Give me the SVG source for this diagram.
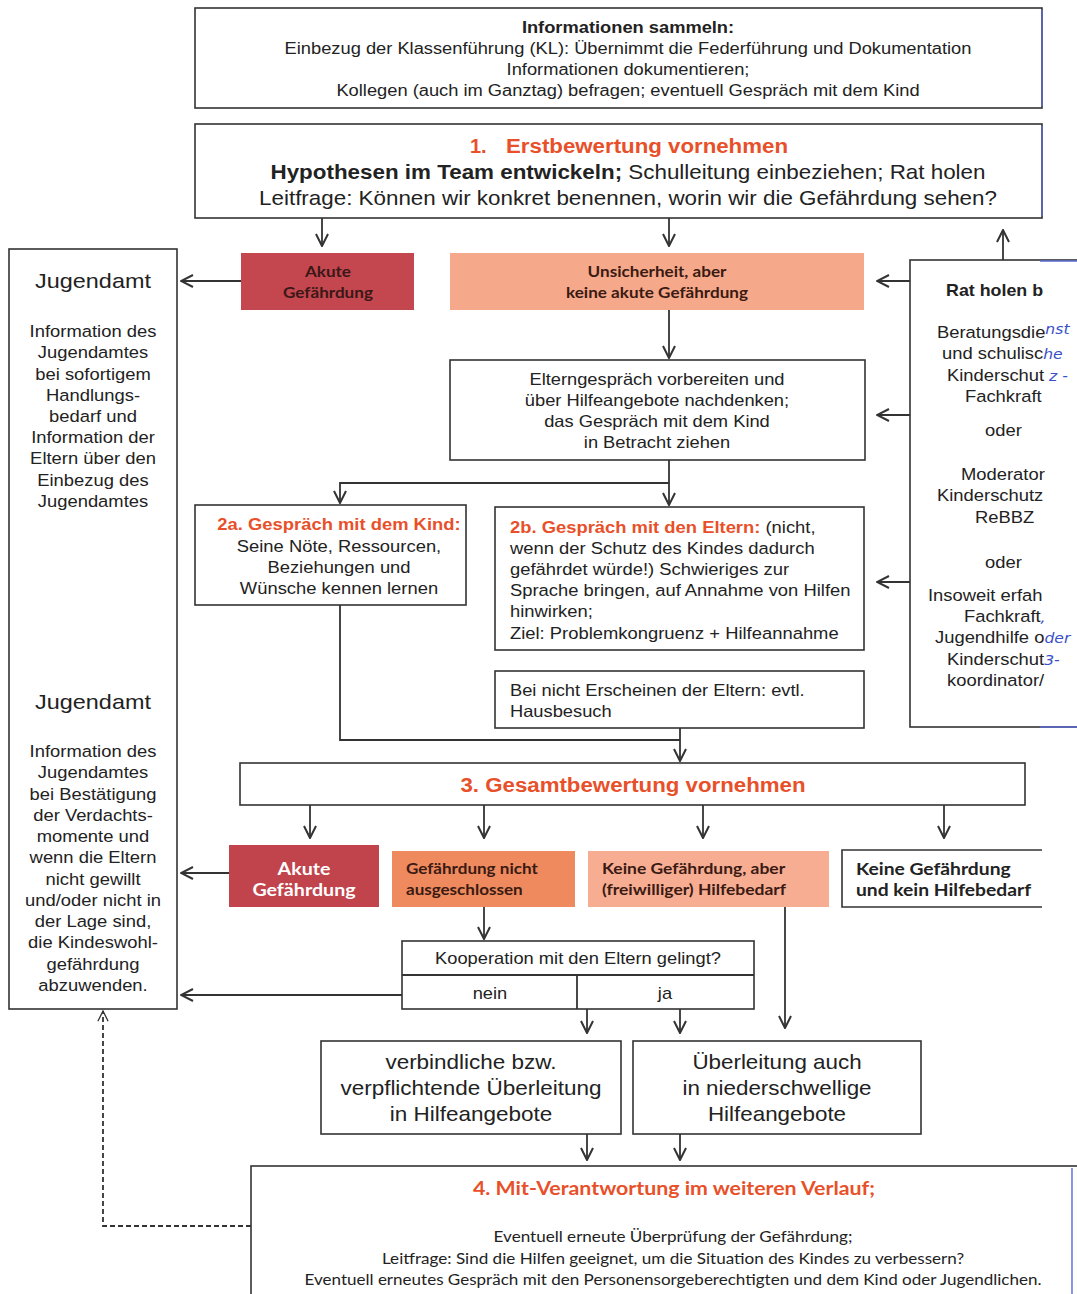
<svg xmlns="http://www.w3.org/2000/svg" width="1077" height="1294" viewBox="0 0 1077 1294">
<defs>
<style>
.box{fill:#fff;stroke:#333;stroke-width:1.6}
.t{font-family:"Liberation Sans",Arial,sans-serif;fill:#222}
.c{text-anchor:middle}
.b{font-weight:bold}
.or{fill:#e8502a;font-weight:bold}
.cal{font-family:Lato,"Liberation Sans",sans-serif;font-weight:bold}
.hw{font-family:"DejaVu Sans",sans-serif;font-style:italic;fill:#3a50c8;font-size:14px;font-weight:normal}
.ln{fill:none;stroke:#333;stroke-width:1.8}
.blue{fill:none;stroke:#5a6ad0;stroke-width:1.4}
</style>
<marker id="ar" viewBox="0 0 14 14" refX="13" refY="7" markerWidth="14" markerHeight="14" markerUnits="userSpaceOnUse" orient="auto">
<path d="M1,1 L13,7 L1,13" fill="none" stroke="#333" stroke-width="2"/>
</marker>
<marker id="ard" viewBox="0 0 14 14" refX="13" refY="7" markerWidth="12" markerHeight="12" markerUnits="userSpaceOnUse" orient="auto">
<path d="M1,1 L13,7 L1,13" fill="none" stroke="#333" stroke-width="1.5"/>
</marker>
</defs>
<rect width="1077" height="1294" fill="#fff"/>

<g id="info">
<rect class="box" x="195" y="8" width="847" height="100"/>
<line class="blue" x1="1042" y1="10" x2="1042" y2="106"/>
<g transform="matrix(1.143,0,0,1,-89.8,0)">
<text class="t c b" x="628" y="33" font-size="16">Informationen sammeln:</text>
<text class="t c" x="628" y="54" font-size="16">Einbezug der Klassenführung (KL): Übernimmt die Federführung und Dokumentation</text>
<text class="t c" x="628" y="75" font-size="16">Informationen dokumentieren;</text>
<text class="t c" x="628" y="96" font-size="16">Kollegen (auch im Ganztag) befragen; eventuell Gespräch mit dem Kind</text>
</g>
</g>

<g id="erst">
<rect class="box" x="195" y="124" width="847" height="94"/>
<line class="blue" x1="1042" y1="126" x2="1042" y2="216"/>
<text class="t or" x="470" y="153" font-size="20">1.</text>
<text class="t or" x="506" y="153" font-size="20" textLength="282" lengthAdjust="spacingAndGlyphs">Erstbewertung vornehmen</text>
<g transform="matrix(1.12,0,0,1,-75.36,0)">
<text class="t c" x="628" y="179" font-size="20"><tspan class="b">Hypothesen im Team entwickeln;</tspan> Schulleitung einbeziehen; Rat holen</text>
<text class="t c" x="628" y="205" font-size="20">Leitfrage: Können wir konkret benennen, worin wir die Gefährdung sehen?</text>
</g>
</g>

<g id="akut1">
<rect x="241" y="253" width="173" height="57" fill="#c4464e"/>
<g transform="matrix(1.14,0,0,1,-45.92,0)">
<text class="cal c" x="328" y="277" font-size="15" fill="#3a1818">Akute</text>
<text class="cal c" x="328" y="298" font-size="15" fill="#3a1818">Gefährdung</text>
</g>
</g>

<g id="unsicher">
<rect x="450" y="253" width="414" height="57" fill="#f6a98a"/>
<g transform="matrix(1.14,0,0,1,-91.98,0)">
<text class="cal c" x="657" y="277" font-size="15" fill="#3a1a12">Unsicherheit, aber</text>
<text class="cal c" x="657" y="298" font-size="15" fill="#3a1a12">keine akute Gefährdung</text>
</g>
</g>

<g id="jugendamt">
<rect class="box" x="9" y="249" width="168" height="760"/>
<g class="t c" font-size="16.5" transform="matrix(1.115,0,0,1,-10.695,0)">
<text x="93" y="288" font-size="21">Jugendamt</text>
<text x="93" y="337">Information des</text>
<text x="93" y="358">Jugendamtes</text>
<text x="93" y="380">bei sofortigem</text>
<text x="93" y="401">Handlungs-</text>
<text x="93" y="422">bedarf und</text>
<text x="93" y="443">Information der</text>
<text x="93" y="464">Eltern über den</text>
<text x="93" y="486">Einbezug des</text>
<text x="93" y="507">Jugendamtes</text>
<text x="93" y="709" font-size="21">Jugendamt</text>
<text x="93" y="757">Information des</text>
<text x="93" y="778">Jugendamtes</text>
<text x="93" y="800">bei Bestätigung</text>
<text x="93" y="821">der Verdachts-</text>
<text x="93" y="842">momente und</text>
<text x="93" y="863">wenn die Eltern</text>
<text x="93" y="885">nicht gewillt</text>
<text x="93" y="906">und/oder nicht in</text>
<text x="93" y="927">der Lage sind,</text>
<text x="93" y="948">die Kindeswohl-</text>
<text x="93" y="970">gefährdung</text>
<text x="93" y="991">abzuwenden.</text>
</g>
</g>

<g id="ratholen">
<rect class="box" x="910" y="260" width="180" height="467"/>
<line class="blue" x1="1040" y1="261" x2="1077" y2="261"/>
<line class="blue" x1="1040" y1="727" x2="1077" y2="727"/>
<g class="t" font-size="16.5" transform="matrix(1.115,0,0,1,-104.65,0)">
<text x="942.3" y="296" class="b" font-size="16">Rat holen b</text>
<text x="934.2" y="338">Beratungsdie<tspan class="hw" dy="-4">nst</tspan></text>
<text x="938.7" y="359">und schulisc<tspan class="hw" font-size="16">he</tspan></text>
<text x="943.2" y="381">Kinderschut<tspan class="hw"> z -</tspan></text>
<text x="959.3" y="402">Fachkraft</text>
<text x="977.3" y="436">oder</text>
<text x="955.7" y="480">Moderator</text>
<text x="934.2" y="501">Kinderschutz</text>
<text x="968.3" y="523">ReBBZ</text>
<text x="977.3" y="568">oder</text>
<text x="926.1" y="601">Insoweit erfah</text>
<text x="958.4" y="622">Fachkraft<tspan class="hw">,</tspan></text>
<text x="932.4" y="643">Jugendhilfe o<tspan class="hw" font-size="15">der</tspan></text>
<text x="943.2" y="665">Kinderschut<tspan class="hw" font-size="15">3-</tspan></text>
<text x="943.2" y="686">koordinator/</text>
</g>
</g>

<g id="eltvor">
<rect class="box" x="450" y="360" width="415" height="100"/>
<g class="t c" font-size="16.5" transform="matrix(1.109,0,0,1,-71.61,0)">
<text x="657" y="385">Elterngespräch vorbereiten und</text>
<text x="657" y="406">über Hilfeangebote nachdenken;</text>
<text x="657" y="427">das Gespräch mit dem Kind</text>
<text x="657" y="448">in Betracht ziehen</text>
</g>
</g>

<g id="kind">
<rect class="box" x="195" y="505" width="271" height="100"/>
<g class="t c" font-size="16.5" transform="matrix(1.115,0,0,1,-38.985,0)">
<text x="339" y="530" class="or">2a. Gespräch mit dem Kind:</text>
<text x="339" y="552">Seine Nöte, Ressourcen,</text>
<text x="339" y="573">Beziehungen und</text>
<text x="339" y="594">Wünsche kennen lernen</text>
</g>
</g>

<g id="eltern">
<rect class="box" x="495" y="507" width="369" height="143"/>
<g class="t" font-size="16.5" transform="matrix(1.115,0,0,1,-58.65,0)">
<text x="510" y="533"><tspan class="or">2b. Gespräch mit den Eltern:</tspan> (nicht,</text>
<text x="510" y="554">wenn der Schutz des Kindes dadurch</text>
<text x="510" y="575">gefährdet würde!) Schwieriges zur</text>
<text x="510" y="596">Sprache bringen, auf Annahme von Hilfen</text>
<text x="510" y="617">hinwirken;</text>
<text x="510" y="639">Ziel: Problemkongruenz + Hilfeannahme</text>
</g>
</g>

<g id="hausbesuch">
<rect class="box" x="495" y="671" width="369" height="57"/>
<g class="t" font-size="16.5" transform="matrix(1.109,0,0,1,-55.59,0)">
<text x="510" y="696">Bei nicht Erscheinen der Eltern: evtl.</text>
<text x="510" y="717">Hausbesuch</text>
</g>
</g>

<g id="gesamt">
<rect class="box" x="240" y="763" width="785" height="42"/>
<text class="t c or" x="633" y="792" font-size="20" transform="matrix(1.113,0,0,1,-71.53,0)">3. Gesamtbewertung vornehmen</text>
</g>

<g id="akut2">
<rect x="229" y="845" width="150" height="62" fill="#c1434c"/>
<g transform="matrix(1.155,0,0,1,-47.12,0)">
<text class="cal c" x="304" y="875" font-size="17" fill="#fff">Akute</text>
<text class="cal c" x="304" y="896" font-size="17" fill="#fff">Gefährdung</text>
</g>
</g>

<g id="nichtaus">
<rect x="392" y="851" width="183" height="56" fill="#ef8a5e"/>
<g transform="matrix(1.138,0,0,1,-56.03,0)">
<text class="cal" x="406" y="874" font-size="15" fill="#3a1a12">Gefährdung nicht</text>
<text class="cal" x="406" y="895" font-size="15" fill="#3a1a12">ausgeschlossen</text>
</g>
</g>

<g id="hilfebedarf">
<rect x="588" y="851" width="241" height="56" fill="#f7ad92"/>
<g transform="matrix(1.165,0,0,1,-99.33,0)">
<text class="cal" x="602" y="874" font-size="15" fill="#3a1a12">Keine Gefährdung, aber</text>
<text class="cal" x="602" y="895" font-size="15" fill="#3a1a12">(freiwilliger) Hilfebedarf</text>
</g>
</g>

<g id="keine">
<path class="box" d="M1042,850 H842 V907 H1042"/>
<g transform="matrix(1.167,0,0,1,-142.95,0)">
<text class="cal" x="856" y="875" font-size="16.5" fill="#222">Keine Gefährdung</text>
<text class="cal" x="856" y="896" font-size="16.5" fill="#222">und kein Hilfebedarf</text>
</g>
</g>

<g id="kooperation">
<rect class="box" x="402" y="941" width="352" height="68"/>
<line class="ln" x1="402" y1="975" x2="754" y2="975" stroke-width="1.6"/>
<line class="ln" x1="577" y1="975" x2="577" y2="1009" stroke-width="1.6"/>
<text class="t c" x="578" y="964" font-size="16" transform="matrix(1.144,0,0,1,-83.23,0)">Kooperation mit den Eltern gelingt?</text>
<text class="t c" x="490" y="999" font-size="16" transform="matrix(1.144,0,0,1,-70.56,0)">nein</text>
<text class="t c" x="665" y="999" font-size="16" transform="matrix(1.144,0,0,1,-95.76,0)">ja</text>
</g>

<g id="verbindlich">
<rect class="box" x="321" y="1041" width="300" height="93"/>
<g class="t c" font-size="20" transform="matrix(1.125,0,0,1,-58.875,0)">
<text x="471" y="1069">verbindliche bzw.</text>
<text x="471" y="1095">verpflichtende Überleitung</text>
<text x="471" y="1121">in Hilfeangebote</text>
</g>
</g>

<g id="niederschwellig">
<rect class="box" x="633" y="1041" width="288" height="93"/>
<g class="t c" font-size="20" transform="matrix(1.12,0,0,1,-93.24,0)">
<text x="777" y="1069">Überleitung auch</text>
<text x="777" y="1095">in niederschwellige</text>
<text x="777" y="1121">Hilfeangebote</text>
</g>
</g>

<g id="mitverantwortung">
<rect class="box" x="251" y="1166" width="840" height="140"/>
<line class="blue" x1="1072" y1="1168" x2="1072" y2="1294"/>
<text class="cal c" x="674" y="1195" font-size="18" fill="#e8502a" transform="matrix(1.185,0,0,1,-124.69,0)">4. Mit-Verantwortung im weiteren Verlauf;</text>
<g font-family="Lato,'Liberation Sans',sans-serif" font-size="14.5" fill="#222" text-anchor="middle">
<g transform="matrix(1.178,0,0,1,-119.79,0)">
<text x="673" y="1242">Eventuell erneute Überprüfung der Gefährdung;</text>
<text x="673" y="1264">Leitfrage: Sind die Hilfen geeignet, um die Situation des Kindes zu verbessern?</text>
</g>
<text x="673" y="1285" textLength="737" lengthAdjust="spacingAndGlyphs">Eventuell erneutes Gespräch mit den Personensorgeberechtigten und dem Kind oder Jugendlichen.</text>
</g>
</g>

<g id="connectors">
<path class="ln" d="M322,218 V246" marker-end="url(#ar)"/>
<path class="ln" d="M669,218 V246" marker-end="url(#ar)"/>
<path class="ln" d="M1003,260 V230" marker-end="url(#ar)"/>
<path class="ln" d="M241,281 H181" marker-end="url(#ar)"/>
<path class="ln" d="M910,281 H877" marker-end="url(#ar)"/>
<path class="ln" d="M669,310 V358" marker-end="url(#ar)"/>
<path class="ln" d="M910,415 H877" marker-end="url(#ar)"/>
<path class="ln" d="M669,460 V505" marker-end="url(#ar)"/>
<path class="ln" d="M669,483 H340 V503" marker-end="url(#ar)"/>
<path class="ln" d="M910,582 H877" marker-end="url(#ar)"/>
<path class="ln" d="M340,605 V740 H680"/>
<path class="ln" d="M680,728 V761" marker-end="url(#ar)"/>
<path class="ln" d="M310,805 V838" marker-end="url(#ar)"/>
<path class="ln" d="M484,805 V838" marker-end="url(#ar)"/>
<path class="ln" d="M703,805 V838" marker-end="url(#ar)"/>
<path class="ln" d="M944,805 V838" marker-end="url(#ar)"/>
<path class="ln" d="M229,873 H181" marker-end="url(#ar)"/>
<path class="ln" d="M484,907 V939" marker-end="url(#ar)"/>
<path class="ln" d="M785,907 V1028" marker-end="url(#ar)"/>
<path class="ln" d="M402,995 H181" marker-end="url(#ar)"/>
<path class="ln" d="M587,1009 V1033" marker-end="url(#ar)"/>
<path class="ln" d="M680,1009 V1033" marker-end="url(#ar)"/>
<path class="ln" d="M587,1134 V1160" marker-end="url(#ar)"/>
<path class="ln" d="M680,1134 V1160" marker-end="url(#ar)"/>
<path class="ln" d="M251,1226 H103 V1011" stroke-dasharray="5,3" stroke-width="1.5" marker-end="url(#ard)"/>
</g>
</svg>
